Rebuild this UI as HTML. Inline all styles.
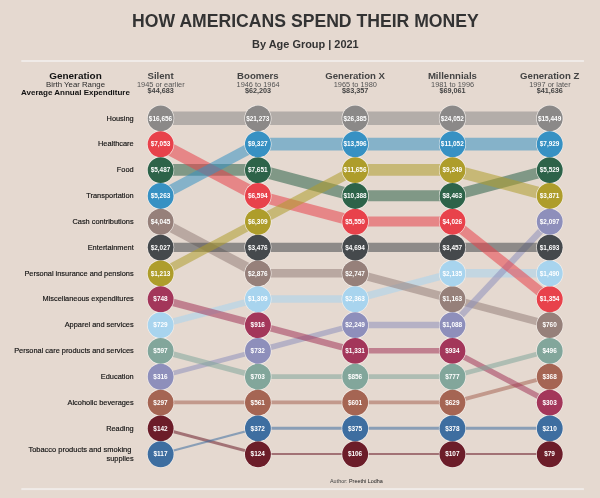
<!DOCTYPE html>
<html lang="en"><head><meta charset="utf-8"><title>How Americans Spend Their Money</title>
<style>
html,body{margin:0;padding:0;background:#e5d9d0;}
body{width:600px;height:498px;overflow:hidden;}
svg{display:block;font-family:"Liberation Sans",Arial,sans-serif;}
.b{font-weight:bold}
</style></head><body>
<svg width="600" height="498" viewBox="0 0 600 498">
<rect width="600" height="498" fill="#e5d9d0"/>
<text x="305.45" y="26.7" text-anchor="middle" class="b" font-size="17.62" fill="#333">HOW AMERICANS SPEND THEIR MONEY</text>
<text x="305.4" y="48" text-anchor="middle" class="b" font-size="10.95" fill="#333">By Age Group | 2021</text>
<rect x="21.3" y="60" width="562.6" height="2" fill="#f0ebe8"/>
<rect x="21.3" y="488.1" width="562.6" height="2" fill="#f0ebe8"/>
<text x="75.5" y="79.3" text-anchor="middle" class="b" font-size="9.95" fill="#111">Generation</text>
<text x="75.5" y="87.2" text-anchor="middle" font-size="7.8" fill="#2a2a2a">Birth Year Range</text>
<text x="75.5" y="95.2" text-anchor="middle" class="b" font-size="8" fill="#111">Average Annual Expenditure</text>
<text x="160.6" y="79.3" text-anchor="middle" class="b" font-size="9.6" fill="#444">Silent</text>
<text x="160.8" y="86.7" text-anchor="middle" font-size="7.4" fill="#555">1945 or earlier</text>
<text x="160.7" y="93.2" text-anchor="middle" class="b" font-size="7.25" fill="#444">$44,683</text>
<text x="257.9" y="79.3" text-anchor="middle" class="b" font-size="9.6" fill="#444">Boomers</text>
<text x="258.1" y="86.7" text-anchor="middle" font-size="7.4" fill="#555">1946 to 1964</text>
<text x="258.0" y="93.2" text-anchor="middle" class="b" font-size="7.25" fill="#444">$62,203</text>
<text x="355.1" y="79.3" text-anchor="middle" class="b" font-size="9.6" fill="#444">Generation X</text>
<text x="355.3" y="86.7" text-anchor="middle" font-size="7.4" fill="#555">1965 to 1980</text>
<text x="355.2" y="93.2" text-anchor="middle" class="b" font-size="7.25" fill="#444">$83,357</text>
<text x="452.4" y="79.3" text-anchor="middle" class="b" font-size="9.6" fill="#444">Millennials</text>
<text x="452.6" y="86.7" text-anchor="middle" font-size="7.4" fill="#555">1981 to 1996</text>
<text x="452.5" y="93.2" text-anchor="middle" class="b" font-size="7.25" fill="#444">$69,061</text>
<text x="549.7" y="79.3" text-anchor="middle" class="b" font-size="9.6" fill="#444">Generation Z</text>
<text x="549.9" y="86.7" text-anchor="middle" font-size="7.4" fill="#555">1997 or later</text>
<text x="549.8" y="93.2" text-anchor="middle" class="b" font-size="7.25" fill="#444">$41,636</text>
<text x="133.7" y="120.65" text-anchor="end" font-size="7.4" fill="#111" stroke="#111" stroke-width="0.15">Housing</text>
<text x="133.7" y="146.48" text-anchor="end" font-size="7.4" fill="#111" stroke="#111" stroke-width="0.15">Healthcare</text>
<text x="133.7" y="172.31" text-anchor="end" font-size="7.4" fill="#111" stroke="#111" stroke-width="0.15">Food</text>
<text x="133.7" y="198.14" text-anchor="end" font-size="7.4" fill="#111" stroke="#111" stroke-width="0.15">Transportation</text>
<text x="133.7" y="223.97" text-anchor="end" font-size="7.4" fill="#111" stroke="#111" stroke-width="0.15">Cash contributions</text>
<text x="133.7" y="249.80" text-anchor="end" font-size="7.4" fill="#111" stroke="#111" stroke-width="0.15">Entertainment</text>
<text x="133.7" y="275.63" text-anchor="end" font-size="7.4" fill="#111" stroke="#111" stroke-width="0.15">Personal insurance and pensions</text>
<text x="133.7" y="301.46" text-anchor="end" font-size="7.4" fill="#111" stroke="#111" stroke-width="0.15">Miscellaneous expenditures</text>
<text x="133.7" y="327.29" text-anchor="end" font-size="7.4" fill="#111" stroke="#111" stroke-width="0.15">Apparel and services</text>
<text x="133.7" y="353.12" text-anchor="end" font-size="7.4" fill="#111" stroke="#111" stroke-width="0.15">Personal care products and services</text>
<text x="133.7" y="378.95" text-anchor="end" font-size="7.4" fill="#111" stroke="#111" stroke-width="0.15">Education</text>
<text x="133.7" y="404.78" text-anchor="end" font-size="7.4" fill="#111" stroke="#111" stroke-width="0.15">Alcoholic beverages</text>
<text x="133.7" y="430.61" text-anchor="end" font-size="7.4" fill="#111" stroke="#111" stroke-width="0.15">Reading</text>
<text x="131.4" y="451.5" text-anchor="end" font-size="7.48" fill="#111" stroke="#111" stroke-width="0.15">Tobacco products and smoking</text>
<text x="133.7" y="460.8" text-anchor="end" font-size="7.4" fill="#111" stroke="#111" stroke-width="0.15">supplies</text>
<g fill="none" stroke-opacity="0.55" stroke-linecap="butt">
<line x1="160.50" y1="402.38" x2="257.77" y2="402.38" stroke="#a56553" stroke-width="3.87"/>
<line x1="257.77" y1="402.38" x2="355.04" y2="402.38" stroke="#a56553" stroke-width="3.87"/>
<line x1="355.04" y1="402.38" x2="452.31" y2="402.38" stroke="#a56553" stroke-width="3.87"/>
<line x1="452.31" y1="402.38" x2="549.58" y2="376.55" stroke="#a56553" stroke-width="3.87"/>
<line x1="160.50" y1="324.89" x2="257.77" y2="299.06" stroke="#a8d4ee" stroke-width="6.52"/>
<line x1="257.77" y1="299.06" x2="355.04" y2="299.06" stroke="#a8d4ee" stroke-width="7.40"/>
<line x1="355.04" y1="299.06" x2="452.31" y2="273.23" stroke="#a8d4ee" stroke-width="7.40"/>
<line x1="452.31" y1="273.23" x2="549.58" y2="273.23" stroke="#a8d4ee" stroke-width="8.29"/>
<line x1="160.50" y1="221.57" x2="257.77" y2="273.23" stroke="#96807a" stroke-width="10.06"/>
<line x1="257.77" y1="273.23" x2="355.04" y2="273.23" stroke="#96807a" stroke-width="8.29"/>
<line x1="355.04" y1="273.23" x2="452.31" y2="299.06" stroke="#96807a" stroke-width="8.29"/>
<line x1="452.31" y1="299.06" x2="549.58" y2="324.89" stroke="#96807a" stroke-width="7.40"/>
<line x1="160.50" y1="376.55" x2="257.77" y2="350.72" stroke="#8e8fbb" stroke-width="4.75"/>
<line x1="257.77" y1="350.72" x2="355.04" y2="324.89" stroke="#8e8fbb" stroke-width="5.63"/>
<line x1="355.04" y1="324.89" x2="452.31" y2="324.89" stroke="#8e8fbb" stroke-width="6.52"/>
<line x1="452.31" y1="324.89" x2="549.58" y2="221.57" stroke="#8e8fbb" stroke-width="6.52"/>
<line x1="160.50" y1="247.40" x2="257.77" y2="247.40" stroke="#45494c" stroke-width="9.18"/>
<line x1="257.77" y1="247.40" x2="355.04" y2="247.40" stroke="#45494c" stroke-width="9.18"/>
<line x1="355.04" y1="247.40" x2="452.31" y2="247.40" stroke="#45494c" stroke-width="9.18"/>
<line x1="452.31" y1="247.40" x2="549.58" y2="247.40" stroke="#45494c" stroke-width="9.18"/>
<line x1="160.50" y1="169.91" x2="257.77" y2="169.91" stroke="#2d6349" stroke-width="11.83"/>
<line x1="257.77" y1="169.91" x2="355.04" y2="195.74" stroke="#2d6349" stroke-width="11.83"/>
<line x1="355.04" y1="195.74" x2="452.31" y2="195.74" stroke="#2d6349" stroke-width="10.95"/>
<line x1="452.31" y1="195.74" x2="549.58" y2="169.91" stroke="#2d6349" stroke-width="10.95"/>
<line x1="160.50" y1="144.08" x2="257.77" y2="195.74" stroke="#e8424b" stroke-width="12.71"/>
<line x1="257.77" y1="195.74" x2="355.04" y2="221.57" stroke="#e8424b" stroke-width="10.95"/>
<line x1="355.04" y1="221.57" x2="452.31" y2="221.57" stroke="#e8424b" stroke-width="10.06"/>
<line x1="452.31" y1="221.57" x2="549.58" y2="299.06" stroke="#e8424b" stroke-width="10.06"/>
<line x1="160.50" y1="118.25" x2="257.77" y2="118.25" stroke="#8b8988" stroke-width="13.60"/>
<line x1="257.77" y1="118.25" x2="355.04" y2="118.25" stroke="#8b8988" stroke-width="13.60"/>
<line x1="355.04" y1="118.25" x2="452.31" y2="118.25" stroke="#8b8988" stroke-width="13.60"/>
<line x1="452.31" y1="118.25" x2="549.58" y2="118.25" stroke="#8b8988" stroke-width="13.60"/>
<line x1="160.50" y1="299.06" x2="257.77" y2="324.89" stroke="#a3365a" stroke-width="7.40"/>
<line x1="257.77" y1="324.89" x2="355.04" y2="350.72" stroke="#a3365a" stroke-width="6.52"/>
<line x1="355.04" y1="350.72" x2="452.31" y2="350.72" stroke="#a3365a" stroke-width="5.63"/>
<line x1="452.31" y1="350.72" x2="549.58" y2="402.38" stroke="#a3365a" stroke-width="5.63"/>
<line x1="160.50" y1="350.72" x2="257.77" y2="376.55" stroke="#82a69b" stroke-width="5.63"/>
<line x1="257.77" y1="376.55" x2="355.04" y2="376.55" stroke="#82a69b" stroke-width="4.75"/>
<line x1="355.04" y1="376.55" x2="452.31" y2="376.55" stroke="#82a69b" stroke-width="4.75"/>
<line x1="452.31" y1="376.55" x2="549.58" y2="350.72" stroke="#82a69b" stroke-width="4.75"/>
<line x1="160.50" y1="273.23" x2="257.77" y2="221.57" stroke="#ae9d2b" stroke-width="8.29"/>
<line x1="257.77" y1="221.57" x2="355.04" y2="169.91" stroke="#ae9d2b" stroke-width="10.06"/>
<line x1="355.04" y1="169.91" x2="452.31" y2="169.91" stroke="#ae9d2b" stroke-width="11.83"/>
<line x1="452.31" y1="169.91" x2="549.58" y2="195.74" stroke="#ae9d2b" stroke-width="11.83"/>
<line x1="160.50" y1="428.21" x2="257.77" y2="454.04" stroke="#6c1d29" stroke-width="2.98"/>
<line x1="257.77" y1="454.04" x2="355.04" y2="454.04" stroke="#6c1d29" stroke-width="2.09"/>
<line x1="355.04" y1="454.04" x2="452.31" y2="454.04" stroke="#6c1d29" stroke-width="2.09"/>
<line x1="452.31" y1="454.04" x2="549.58" y2="454.04" stroke="#6c1d29" stroke-width="2.09"/>
<line x1="160.50" y1="454.04" x2="257.77" y2="428.21" stroke="#3e6ea0" stroke-width="2.09"/>
<line x1="257.77" y1="428.21" x2="355.04" y2="428.21" stroke="#3e6ea0" stroke-width="2.98"/>
<line x1="355.04" y1="428.21" x2="452.31" y2="428.21" stroke="#3e6ea0" stroke-width="2.98"/>
<line x1="452.31" y1="428.21" x2="549.58" y2="428.21" stroke="#3e6ea0" stroke-width="2.98"/>
<line x1="160.50" y1="195.74" x2="257.77" y2="144.08" stroke="#3791c3" stroke-width="10.95"/>
<line x1="257.77" y1="144.08" x2="355.04" y2="144.08" stroke="#3791c3" stroke-width="12.71"/>
<line x1="355.04" y1="144.08" x2="452.31" y2="144.08" stroke="#3791c3" stroke-width="12.71"/>
<line x1="452.31" y1="144.08" x2="549.58" y2="144.08" stroke="#3791c3" stroke-width="12.71"/>
</g>
<g fill="#f6f1ed">
<circle cx="160.65" cy="118.45" r="13.55"/>
<circle cx="257.92" cy="118.45" r="13.55"/>
<circle cx="355.19" cy="118.45" r="13.55"/>
<circle cx="452.46" cy="118.45" r="13.55"/>
<circle cx="549.73" cy="118.45" r="13.55"/>
<circle cx="160.65" cy="144.28" r="13.55"/>
<circle cx="257.92" cy="195.94" r="13.55"/>
<circle cx="355.19" cy="221.77" r="13.55"/>
<circle cx="452.46" cy="221.77" r="13.55"/>
<circle cx="549.73" cy="299.26" r="13.55"/>
<circle cx="160.65" cy="170.11" r="13.55"/>
<circle cx="257.92" cy="170.11" r="13.55"/>
<circle cx="355.19" cy="195.94" r="13.55"/>
<circle cx="452.46" cy="195.94" r="13.55"/>
<circle cx="549.73" cy="170.11" r="13.55"/>
<circle cx="160.65" cy="195.94" r="13.55"/>
<circle cx="257.92" cy="144.28" r="13.55"/>
<circle cx="355.19" cy="144.28" r="13.55"/>
<circle cx="452.46" cy="144.28" r="13.55"/>
<circle cx="549.73" cy="144.28" r="13.55"/>
<circle cx="160.65" cy="221.77" r="13.55"/>
<circle cx="257.92" cy="273.43" r="13.55"/>
<circle cx="355.19" cy="273.43" r="13.55"/>
<circle cx="452.46" cy="299.26" r="13.55"/>
<circle cx="549.73" cy="325.09" r="13.55"/>
<circle cx="160.65" cy="247.60" r="13.55"/>
<circle cx="257.92" cy="247.60" r="13.55"/>
<circle cx="355.19" cy="247.60" r="13.55"/>
<circle cx="452.46" cy="247.60" r="13.55"/>
<circle cx="549.73" cy="247.60" r="13.55"/>
<circle cx="160.65" cy="273.43" r="13.55"/>
<circle cx="257.92" cy="221.77" r="13.55"/>
<circle cx="355.19" cy="170.11" r="13.55"/>
<circle cx="452.46" cy="170.11" r="13.55"/>
<circle cx="549.73" cy="195.94" r="13.55"/>
<circle cx="160.65" cy="299.26" r="13.55"/>
<circle cx="257.92" cy="325.09" r="13.55"/>
<circle cx="355.19" cy="350.92" r="13.55"/>
<circle cx="452.46" cy="350.92" r="13.55"/>
<circle cx="549.73" cy="402.58" r="13.55"/>
<circle cx="160.65" cy="325.09" r="13.55"/>
<circle cx="257.92" cy="299.26" r="13.55"/>
<circle cx="355.19" cy="299.26" r="13.55"/>
<circle cx="452.46" cy="273.43" r="13.55"/>
<circle cx="549.73" cy="273.43" r="13.55"/>
<circle cx="160.65" cy="350.92" r="13.55"/>
<circle cx="257.92" cy="376.75" r="13.55"/>
<circle cx="355.19" cy="376.75" r="13.55"/>
<circle cx="452.46" cy="376.75" r="13.55"/>
<circle cx="549.73" cy="350.92" r="13.55"/>
<circle cx="160.65" cy="376.75" r="13.55"/>
<circle cx="257.92" cy="350.92" r="13.55"/>
<circle cx="355.19" cy="325.09" r="13.55"/>
<circle cx="452.46" cy="325.09" r="13.55"/>
<circle cx="549.73" cy="221.77" r="13.55"/>
<circle cx="160.65" cy="402.58" r="13.55"/>
<circle cx="257.92" cy="402.58" r="13.55"/>
<circle cx="355.19" cy="402.58" r="13.55"/>
<circle cx="452.46" cy="402.58" r="13.55"/>
<circle cx="549.73" cy="376.75" r="13.55"/>
<circle cx="160.65" cy="428.41" r="13.55"/>
<circle cx="257.92" cy="454.24" r="13.55"/>
<circle cx="355.19" cy="454.24" r="13.55"/>
<circle cx="452.46" cy="454.24" r="13.55"/>
<circle cx="549.73" cy="454.24" r="13.55"/>
<circle cx="160.65" cy="454.24" r="13.55"/>
<circle cx="257.92" cy="428.41" r="13.55"/>
<circle cx="355.19" cy="428.41" r="13.55"/>
<circle cx="452.46" cy="428.41" r="13.55"/>
<circle cx="549.73" cy="428.41" r="13.55"/>
</g>
<g>
<circle cx="160.65" cy="118.45" r="12.95" fill="#8b8988"/>
<circle cx="257.92" cy="118.45" r="12.95" fill="#8b8988"/>
<circle cx="355.19" cy="118.45" r="12.95" fill="#8b8988"/>
<circle cx="452.46" cy="118.45" r="12.95" fill="#8b8988"/>
<circle cx="549.73" cy="118.45" r="12.95" fill="#8b8988"/>
<circle cx="160.65" cy="144.28" r="12.95" fill="#e8424b"/>
<circle cx="257.92" cy="195.94" r="12.95" fill="#e8424b"/>
<circle cx="355.19" cy="221.77" r="12.95" fill="#e8424b"/>
<circle cx="452.46" cy="221.77" r="12.95" fill="#e8424b"/>
<circle cx="549.73" cy="299.26" r="12.95" fill="#e8424b"/>
<circle cx="160.65" cy="170.11" r="12.95" fill="#2d6349"/>
<circle cx="257.92" cy="170.11" r="12.95" fill="#2d6349"/>
<circle cx="355.19" cy="195.94" r="12.95" fill="#2d6349"/>
<circle cx="452.46" cy="195.94" r="12.95" fill="#2d6349"/>
<circle cx="549.73" cy="170.11" r="12.95" fill="#2d6349"/>
<circle cx="160.65" cy="195.94" r="12.95" fill="#3791c3"/>
<circle cx="257.92" cy="144.28" r="12.95" fill="#3791c3"/>
<circle cx="355.19" cy="144.28" r="12.95" fill="#3791c3"/>
<circle cx="452.46" cy="144.28" r="12.95" fill="#3791c3"/>
<circle cx="549.73" cy="144.28" r="12.95" fill="#3791c3"/>
<circle cx="160.65" cy="221.77" r="12.95" fill="#96807a"/>
<circle cx="257.92" cy="273.43" r="12.95" fill="#96807a"/>
<circle cx="355.19" cy="273.43" r="12.95" fill="#96807a"/>
<circle cx="452.46" cy="299.26" r="12.95" fill="#96807a"/>
<circle cx="549.73" cy="325.09" r="12.95" fill="#96807a"/>
<circle cx="160.65" cy="247.60" r="12.95" fill="#45494c"/>
<circle cx="257.92" cy="247.60" r="12.95" fill="#45494c"/>
<circle cx="355.19" cy="247.60" r="12.95" fill="#45494c"/>
<circle cx="452.46" cy="247.60" r="12.95" fill="#45494c"/>
<circle cx="549.73" cy="247.60" r="12.95" fill="#45494c"/>
<circle cx="160.65" cy="273.43" r="12.95" fill="#ae9d2b"/>
<circle cx="257.92" cy="221.77" r="12.95" fill="#ae9d2b"/>
<circle cx="355.19" cy="170.11" r="12.95" fill="#ae9d2b"/>
<circle cx="452.46" cy="170.11" r="12.95" fill="#ae9d2b"/>
<circle cx="549.73" cy="195.94" r="12.95" fill="#ae9d2b"/>
<circle cx="160.65" cy="299.26" r="12.95" fill="#a3365a"/>
<circle cx="257.92" cy="325.09" r="12.95" fill="#a3365a"/>
<circle cx="355.19" cy="350.92" r="12.95" fill="#a3365a"/>
<circle cx="452.46" cy="350.92" r="12.95" fill="#a3365a"/>
<circle cx="549.73" cy="402.58" r="12.95" fill="#a3365a"/>
<circle cx="160.65" cy="325.09" r="12.95" fill="#a8d4ee"/>
<circle cx="257.92" cy="299.26" r="12.95" fill="#a8d4ee"/>
<circle cx="355.19" cy="299.26" r="12.95" fill="#a8d4ee"/>
<circle cx="452.46" cy="273.43" r="12.95" fill="#a8d4ee"/>
<circle cx="549.73" cy="273.43" r="12.95" fill="#a8d4ee"/>
<circle cx="160.65" cy="350.92" r="12.95" fill="#82a69b"/>
<circle cx="257.92" cy="376.75" r="12.95" fill="#82a69b"/>
<circle cx="355.19" cy="376.75" r="12.95" fill="#82a69b"/>
<circle cx="452.46" cy="376.75" r="12.95" fill="#82a69b"/>
<circle cx="549.73" cy="350.92" r="12.95" fill="#82a69b"/>
<circle cx="160.65" cy="376.75" r="12.95" fill="#8e8fbb"/>
<circle cx="257.92" cy="350.92" r="12.95" fill="#8e8fbb"/>
<circle cx="355.19" cy="325.09" r="12.95" fill="#8e8fbb"/>
<circle cx="452.46" cy="325.09" r="12.95" fill="#8e8fbb"/>
<circle cx="549.73" cy="221.77" r="12.95" fill="#8e8fbb"/>
<circle cx="160.65" cy="402.58" r="12.95" fill="#a56553"/>
<circle cx="257.92" cy="402.58" r="12.95" fill="#a56553"/>
<circle cx="355.19" cy="402.58" r="12.95" fill="#a56553"/>
<circle cx="452.46" cy="402.58" r="12.95" fill="#a56553"/>
<circle cx="549.73" cy="376.75" r="12.95" fill="#a56553"/>
<circle cx="160.65" cy="428.41" r="12.95" fill="#6c1d29"/>
<circle cx="257.92" cy="454.24" r="12.95" fill="#6c1d29"/>
<circle cx="355.19" cy="454.24" r="12.95" fill="#6c1d29"/>
<circle cx="452.46" cy="454.24" r="12.95" fill="#6c1d29"/>
<circle cx="549.73" cy="454.24" r="12.95" fill="#6c1d29"/>
<circle cx="160.65" cy="454.24" r="12.95" fill="#3e6ea0"/>
<circle cx="257.92" cy="428.41" r="12.95" fill="#3e6ea0"/>
<circle cx="355.19" cy="428.41" r="12.95" fill="#3e6ea0"/>
<circle cx="452.46" cy="428.41" r="12.95" fill="#3e6ea0"/>
<circle cx="549.73" cy="428.41" r="12.95" fill="#3e6ea0"/>
</g>
<g fill="#fff" class="b" font-size="6.45" text-anchor="middle">
<text x="160.50" y="120.55">$16,656</text>
<text x="257.77" y="120.55">$21,273</text>
<text x="355.04" y="120.55">$26,385</text>
<text x="452.31" y="120.55">$24,052</text>
<text x="549.58" y="120.55">$15,449</text>
<text x="160.50" y="146.38">$7,053</text>
<text x="257.77" y="198.04">$6,594</text>
<text x="355.04" y="223.87">$5,550</text>
<text x="452.31" y="223.87">$4,026</text>
<text x="549.58" y="301.36">$1,354</text>
<text x="160.50" y="172.21">$5,487</text>
<text x="257.77" y="172.21">$7,651</text>
<text x="355.04" y="198.04">$10,388</text>
<text x="452.31" y="198.04">$8,463</text>
<text x="549.58" y="172.21">$5,529</text>
<text x="160.50" y="198.04">$5,263</text>
<text x="257.77" y="146.38">$9,327</text>
<text x="355.04" y="146.38">$13,596</text>
<text x="452.31" y="146.38">$11,052</text>
<text x="549.58" y="146.38">$7,929</text>
<text x="160.50" y="223.87">$4,045</text>
<text x="257.77" y="275.53">$2,876</text>
<text x="355.04" y="275.53">$2,747</text>
<text x="452.31" y="301.36">$1,163</text>
<text x="549.58" y="327.19">$760</text>
<text x="160.50" y="249.70">$2,027</text>
<text x="257.77" y="249.70">$3,476</text>
<text x="355.04" y="249.70">$4,694</text>
<text x="452.31" y="249.70">$3,457</text>
<text x="549.58" y="249.70">$1,693</text>
<text x="160.50" y="275.53">$1,213</text>
<text x="257.77" y="223.87">$6,309</text>
<text x="355.04" y="172.21">$11,656</text>
<text x="452.31" y="172.21">$9,249</text>
<text x="549.58" y="198.04">$3,871</text>
<text x="160.50" y="301.36">$748</text>
<text x="257.77" y="327.19">$916</text>
<text x="355.04" y="353.02">$1,331</text>
<text x="452.31" y="353.02">$934</text>
<text x="549.58" y="404.68">$303</text>
<text x="160.50" y="327.19">$729</text>
<text x="257.77" y="301.36">$1,309</text>
<text x="355.04" y="301.36">$2,363</text>
<text x="452.31" y="275.53">$2,135</text>
<text x="549.58" y="275.53">$1,490</text>
<text x="160.50" y="353.02">$597</text>
<text x="257.77" y="378.85">$703</text>
<text x="355.04" y="378.85">$856</text>
<text x="452.31" y="378.85">$777</text>
<text x="549.58" y="353.02">$496</text>
<text x="160.50" y="378.85">$316</text>
<text x="257.77" y="353.02">$732</text>
<text x="355.04" y="327.19">$2,249</text>
<text x="452.31" y="327.19">$1,088</text>
<text x="549.58" y="223.87">$2,097</text>
<text x="160.50" y="404.68">$297</text>
<text x="257.77" y="404.68">$561</text>
<text x="355.04" y="404.68">$601</text>
<text x="452.31" y="404.68">$629</text>
<text x="549.58" y="378.85">$368</text>
<text x="160.50" y="430.51">$142</text>
<text x="257.77" y="456.34">$124</text>
<text x="355.04" y="456.34">$106</text>
<text x="452.31" y="456.34">$107</text>
<text x="549.58" y="456.34">$79</text>
<text x="160.50" y="456.34">$117</text>
<text x="257.77" y="430.51">$372</text>
<text x="355.04" y="430.51">$375</text>
<text x="452.31" y="430.51">$378</text>
<text x="549.58" y="430.51">$210</text>
</g>
<text x="330" y="483.3" font-size="5.43" fill="#222"><tspan fill="#444">Author:</tspan> Preethi Lodha</text>
</svg>
</body></html>
